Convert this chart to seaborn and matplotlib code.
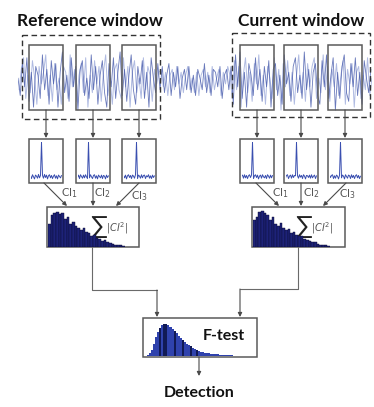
import matplotlib
matplotlib.use("Agg")
import matplotlib.pyplot as plt
from matplotlib.patches import Rectangle
import numpy as np
import pandas as pd
import seaborn as sns

# ---------------- data ----------------
signal_a = [
    0.1, -0.5, 0.6, -0.2, 0.8, -0.7, 0.3, -0.9, 0.5, 0.2, -0.6, 0.9, -0.3, 0.4, -0.8, 0.7,
    -0.1, 0.6, -0.9, 0.3, 1.0, -0.4, 0.2, -0.7, 0.8, -0.2, 0.5, -1.0, 0.4, 0.7, -0.5, 0.1,
    -0.6, 0.9, -0.3, 0.5, -0.8, 0.2, 0.7, -0.4, -0.9, 0.6, -0.2, 0.8, -0.6, 0.3, 1.0, -0.5,
    0.4, -0.7, 0.2, 0.9, -0.3, -0.8, 0.5, -0.1, 0.7, -0.6, 0.3, -0.9, 0.8, 0.1, -0.4, 0.6,
    -0.3, 0.5, -0.4, 0.2, 0.6, -0.5, 0.3, -0.2, 0.5, -0.6, 0.1, 0.4, -0.3, 0.5, -0.4, 0.2,
    -0.5, 0.4, 0.1, -0.3, 0.6, -0.4, 0.2, -0.5, 0.4, 0.3, -0.2, 0.5, -0.6, 0.2, 0.4, -0.3,
    0.5, -0.8, 0.9, -0.2, 1.0, -0.6, 0.3, -0.9, 0.6, 0.2, -0.5, 0.8, -0.3, 0.4, -0.7, 0.5,
    -0.2, 0.7, -0.9, 0.4, 0.6, -0.5, 0.2, -0.8, 0.9, -0.1, 0.3, -0.7, 0.5, 0.8, -0.4, 0.2,
    -0.6, 1.0, -0.3, 0.4, -0.9, 0.3, 0.6, -0.5, -0.8, 0.7, -0.2, 0.9, -0.6, 0.2, 0.8, -1.0,
    0.3, -0.6, 0.5, 0.9, -0.4, -0.7, 0.6, -0.2, 0.8, -0.5, 0.3, -0.8, 0.7, 0.1, -0.4, 0.4,
]
signal_b = [
    -0.3, 0.4, 0.8, -0.6, 0.2, -0.4, 0.7, 0.1, -0.8, 0.5, -0.1, 0.3, 0.9, -0.5, 0.2, -0.7,
    0.6, -0.3, 0.1, -0.8, 0.5, 0.3, -0.6, 0.9, -0.2, 0.4, -0.7, 0.2, 0.6, -0.4, 0.8, -0.9,
    0.2, -0.4, 0.7, -0.1, 0.5, -0.7, 0.3, 0.9, -0.5, 0.1, -0.8, 0.4, 0.6, -0.3, -0.6, 0.8,
    -0.2, 0.5, -0.9, 0.3, 0.7, -0.4, 0.1, -0.6, 0.8, -0.3, 0.5, 0.2, -0.7, 0.4, -0.1, 0.3,
    0.4, -0.2, 0.3, -0.5, 0.2, 0.4, -0.3, 0.5, -0.1, 0.3, -0.4, 0.2, 0.5, -0.3, 0.1, -0.4,
    0.3, -0.5, 0.2, 0.4, -0.2, 0.3, -0.4, 0.5, -0.3, 0.1, 0.4, -0.5, 0.3, -0.1, 0.5, 0.2,
    -0.6, 0.7, -0.3, 0.5, -0.9, 0.2, 0.8, -0.4, 0.3, -0.7, 0.6, -0.1, 0.9, -0.5, 0.2, -0.8,
    0.5, 0.1, -0.6, 0.8, -0.3, 0.4, -1.0, 0.6, -0.2, 0.7, -0.5, 0.3, -0.8, 0.2, 0.9, -0.4,
    0.3, -0.7, 0.6, -0.2, 0.5, 0.8, -0.6, 0.1, -0.4, 0.9, -0.3, 0.5, -0.7, 0.4, -0.2, 0.6,
    -0.5, 0.2, 0.7, -0.8, 0.4, -0.1, 0.6, -0.9, 0.3, 0.5, -0.6, 0.2, -0.3, 0.8, -0.5, 0.1,
]

spectra = {
    "ref1": [0.03, -0.05, 0.06, 0.0, -0.06, 0.05, 0.02, -0.04, 0.07, -0.03, 0.04, 1.0, 0.04, -0.04, 0.07, -0.02,
             0.05, -0.06, 0.03, 0.06, -0.03, 0.04, -0.05, 0.02, 0.06, -0.04, 0.03, -0.06, 0.05, 0.01, -0.03, 0.04],
    "ref2": [-0.02, 0.05, -0.05, 0.06, 0.01, -0.04, 0.05, -0.03, 0.06, 0.0, -0.05, 1.0, -0.03, 0.06, 0.0, -0.05,
             0.04, 0.06, -0.04, 0.03, -0.06, 0.05, 0.01, -0.03, 0.05, -0.05, 0.04, 0.02, -0.06, 0.05, -0.02, 0.03],
    "ref3": [0.04, -0.03, 0.05, -0.06, 0.03, 0.06, -0.02, 0.04, -0.05, 0.05, 0.02, -0.04, 0.06, 1.0, -0.05, 0.05,
             0.02, -0.04, 0.06, -0.03, 0.04, 0.05, -0.05, 0.03, 0.0, 0.06, -0.04, 0.03, -0.05, 0.05, -0.02, 0.03],
    "cur1": [0.02, 0.05, -0.04, 0.06, -0.03, 0.04, -0.05, 0.03, 0.06, -0.02, 0.05, 1.0, -0.05, 0.03, 0.06, -0.02,
             0.05, -0.06, 0.02, 0.05, -0.04, 0.06, 0.0, -0.03, 0.04, -0.05, 0.06, 0.02, -0.04, 0.05, -0.03, 0.04],
    "cur2": [-0.03, 0.04, 0.06, -0.05, 0.02, 0.05, -0.04, 0.06, -0.02, 0.04, 0.03, 1.0, 0.03, -0.04, 0.06, -0.01,
             0.04, -0.05, 0.06, 0.02, -0.06, 0.04, 0.03, -0.02, 0.05, -0.04, 0.06, -0.03, 0.02, 0.05, -0.05, 0.03],
    "cur3": [0.05, -0.02, 0.04, 0.06, -0.05, 0.03, -0.04, 0.05, 0.02, -0.06, 0.04, 1.0, -0.03, 0.05, 0.02, -0.06,
             0.06, 0.01, -0.04, 0.05, 0.03, -0.05, 0.06, -0.02, 0.04, -0.05, 0.03, 0.06, -0.03, 0.04, -0.05, 0.02],
}

ci_ref = [0.6, 0.85, 0.9, 0.93, 0.88, 0.9, 0.75, 0.8, 0.6, 0.66, 0.55, 0.5, 0.45, 0.5, 0.4,
          0.38, 0.3, 0.32, 0.25, 0.2, 0.15, 0.18, 0.12, 0.1, 0.08, 0.06, 0.05, 0.04, 0.03]
ci_cur = [0.7, 0.8, 0.92, 0.95, 0.9, 0.85, 0.7, 0.78, 0.6, 0.55, 0.62, 0.5, 0.45, 0.48, 0.38,
          0.4, 0.32, 0.28, 0.3, 0.22, 0.18, 0.15, 0.12, 0.13, 0.08, 0.06, 0.05, 0.04, 0.03]

f_dist = [0.02, 0.08, 0.2, 0.38, 0.58, 0.75, 0.88, 0.96, 1.0, 0.99, 0.96, 0.91, 0.85, 0.78, 0.71,
          0.64, 0.57, 0.5, 0.44, 0.39, 0.34, 0.3, 0.26, 0.22, 0.19, 0.16, 0.14, 0.12, 0.1, 0.09,
          0.08, 0.07, 0.06, 0.05, 0.05, 0.04, 0.04, 0.03, 0.03, 0.02, 0.02, 0.02, 0.01, 0.01, 0.01]
f_dark = [6, 8, 9, 13, 17, 21, 24]

titles = ["Reference window", "Current window"]
ci_labels = [r"CI$_1$", r"CI$_2$", r"CI$_3$"]
sum_label = r"$|CI^2|$"
ftest_label = "F-test"
detect_label = "Detection"

# ---------------- figure ----------------
sns.set_theme(style="white")
plt.rcParams["font.family"] = ["Lato", "DejaVu Sans"]
plt.rcParams["mathtext.fontset"] = "dejavusans"

W, H = 374, 407
fig = plt.figure(figsize=(W / 100, H / 100), dpi=100)
fig.patch.set_facecolor("white")


def rect(x0, y0, x1, y1):
    return [x0 / W, 1 - y1 / H, (x1 - x0) / W, (y1 - y0) / H]


def clean(ax):
    ax.set_axis_off()
    ax.patch.set_alpha(0)


# signal (two overlapping traces)
ax_sig = fig.add_axes(rect(18, 49, 372, 113))
df_sig = pd.DataFrame({
    "t": np.concatenate([np.arange(len(signal_a)), np.arange(len(signal_b)) + 0.5]),
    "v": signal_a + signal_b,
    "trace": ["a"] * len(signal_a) + ["b"] * len(signal_b),
})
sns.lineplot(data=df_sig[df_sig.trace == "b"], x="t", y="v", ax=ax_sig,
             color="#8f9fd6", lw=0.7, alpha=0.7)
sns.lineplot(data=df_sig[df_sig.trace == "a"], x="t", y="v", ax=ax_sig,
             color="#4458aa", lw=0.6, alpha=0.8)
ax_sig.set_xlim(0, len(signal_a) - 0.5)
ax_sig.set_ylim(-1.1, 1.1)
clean(ax_sig)

# overlay (layout) axes in pixel coords
ov = fig.add_axes([0, 0, 1, 1])
ov.set_xlim(0, W)
ov.set_ylim(H, 0)
clean(ov)

box_col = "#5a5a5a"
line_col = "#4a4a4a"


def box(x0, y0, x1, y1, fc="none", ls="-", lw=1.1, ec=box_col, z=3):
    ov.add_patch(Rectangle((x0, y0), x1 - x0, y1 - y0, fc=fc, ec=ec, lw=lw, ls=ls, zorder=z))


def arrow(x0, y0, x1, y1):
    ov.annotate("", xy=(x1, y1), xytext=(x0, y0),
                arrowprops=dict(arrowstyle="-|>", color=line_col, lw=0.8,
                                mutation_scale=6, shrinkA=0, shrinkB=0))


def seg(xs, ys):
    ov.plot(xs, ys, color="#6a6a6a", lw=0.8)


# titles
ov.text(17, 21, titles[0], fontsize=12.5, fontweight="bold", va="center", ha="left", color="#111")
ov.text(238, 21, titles[1], fontsize=12.5, fontweight="bold", va="center", ha="left", color="#111")

# dashed window boxes
box(22, 35, 160, 119, ls=(0, (4, 2.5)), ec="#333", lw=1.0)
box(232, 33, 370, 117, ls=(0, (4, 2.5)), ec="#333", lw=1.0)

win_x = [(29, 63), (76, 110), (122, 156), (240, 274), (284, 318), (328, 362)]
for x0, x1 in win_x:
    box(x0, 45, x1, 110)
    xc = (x0 + x1) / 2
    arrow(xc, 110, xc, 138)

# spectra boxes
for (x0, x1), key in zip(win_x, spectra):
    box(x0, 139, x1, 183, fc="white", z=2)
    ax = fig.add_axes(rect(x0 + 1.5, 142, x1 - 1.5, 181))
    vals = spectra[key]
    d = pd.DataFrame({"f": np.arange(len(vals)), "a": vals})
    sns.lineplot(data=d, x="f", y="a", ax=ax, color="#3a4fb0", lw=0.7)
    ax.set_xlim(0, len(vals) - 1)
    ax.set_ylim(-0.12, 1.0)
    clean(ax)

# arrows to CI histogram boxes
starts_l = [44, 93, 139]
ends_l = [67, 93, 116]
for xs, xe in zip(starts_l, ends_l):
    arrow(xs, 183, xe, 206)
starts_r = [256, 301, 346]
ends_r = [279, 301, 323]
for xs, xe in zip(starts_r, ends_r):
    arrow(xs, 183, xe, 206)

ci_pos = [(61, 193), (94, 193), (131, 196), (272, 193), (303, 193), (339, 194)]
for i, (x, y) in enumerate(ci_pos):
    ov.text(x, y, ci_labels[i % 3], fontsize=8, color="#555", va="center", ha="left")

# histogram boxes
for (x0, x1, data) in [(47, 139, ci_ref), (252, 345, ci_cur)]:
    box(x0, 207, x1, 247, fc="white", z=2)
    ax = fig.add_axes(rect(x0 + 1, 209, x0 + 78, 247))
    ax.bar(np.arange(len(data)), data, width=1.0, color="#1d2278", edgecolor="#0a0a30", lw=0.3)
    ax.set_xlim(-0.5, len(data) - 0.5)
    ax.set_ylim(0, 1.0)
    clean(ax)

for xs in (90, 295):
    ov.text(xs, 227, "\u2211", fontsize=18, color="#222", va="center", ha="left")
    ov.text(xs + 16, 228, sum_label, fontsize=7, color="#555", va="center", ha="left")

# connectors
seg([92, 92, 157], [247, 290, 290])
arrow(157, 290, 157, 317)
seg([298, 298, 240], [247, 289, 289])
arrow(240, 289, 240, 317)

# F-test box
box(143, 318, 257, 357, fc="white", z=2)
ax_f = fig.add_axes(rect(147, 324, 239, 356))
fcolors = ["#111a55" if i in f_dark else "#2f42ad" for i in range(len(f_dist))]
ax_f.bar(np.arange(len(f_dist)), f_dist, width=1.0, color=fcolors, lw=0)
ax_f.set_xlim(-0.5, len(f_dist) - 0.5)
ax_f.set_ylim(0, 1.0)
clean(ax_f)
ov.text(224, 336, ftest_label, fontsize=11.5, fontweight="bold", va="center", ha="center", color="#111")

arrow(199, 357, 199, 376)
ov.text(199, 393, detect_label, fontsize=11.5, fontweight="bold", va="center", ha="center", color="#111")

fig.savefig("out.png", dpi=100, facecolor="white")
